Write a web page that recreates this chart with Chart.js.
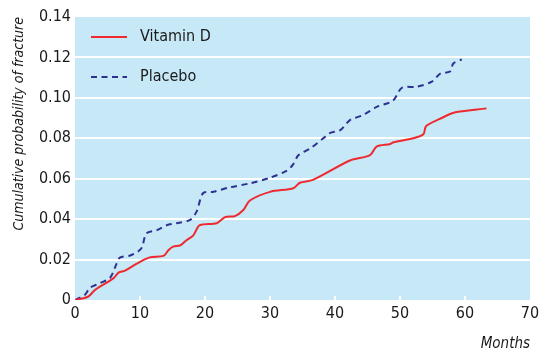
<!DOCTYPE html>
<html>
<head>
    <title>Cumulative probability of fracture</title>
    <script src="https://cdn.jsdelivr.net/npm/chart.js"></script>
    <style>
        body { margin: 0; background: #fff; }
        #wrap { width: 540px; height: 354px; }
    </style>
</head>
<body>
    <div id="wrap"><canvas id="fracture-chart"></canvas></div>

    <script>
        // values
        const vitaminMonths = [0, 2, 3.1, 5.9, 6.7, 7.7, 9.5, 11.5, 13.6, 14.4, 15.1, 16.2, 17.2, 18.2, 19.2, 21.8, 23.1, 24.6, 25.9, 26.9, 30, 33.6, 34.6, 36.6, 42.3, 45.4, 46.4, 48.5, 49, 52, 53.6, 54, 56.2, 57.7, 58.7, 63.3];
        const vitaminValues = [0, 0.0016, 0.005, 0.0107, 0.0135, 0.0145, 0.018, 0.0211, 0.0218, 0.0247, 0.0264, 0.027, 0.0297, 0.032, 0.037, 0.038, 0.041, 0.0415, 0.0445, 0.0492, 0.0535, 0.0553, 0.058, 0.0594, 0.069, 0.0717, 0.0759, 0.0772, 0.078, 0.080, 0.082, 0.086, 0.0897, 0.092, 0.093, 0.0948];

        const placeboMonths = [0, 1.5, 2.3, 3.8, 5.4, 6.4, 6.9, 8.5, 9.7, 10.3, 11, 12.6, 14.1, 15.6, 17.7, 18.7, 19.7, 21.3, 23.8, 26.9, 30, 32.6, 33.5, 34.4, 36.2, 38.2, 39.2, 40.8, 42.3, 44.3, 46.4, 48.9, 50.3, 52.6, 54.9, 56.2, 57.7, 58.2, 59.5];
        const placeboValues = [0, 0.0025, 0.006, 0.0083, 0.011, 0.018, 0.021, 0.022, 0.024, 0.026, 0.033, 0.0346, 0.037, 0.038, 0.0396, 0.0437, 0.0528, 0.0536, 0.0557, 0.0577, 0.0605, 0.064, 0.0668, 0.0717, 0.075, 0.080, 0.0826, 0.084, 0.089, 0.0915, 0.0955, 0.0986, 0.105, 0.1055, 0.108, 0.112, 0.113, 0.117, 0.119];

        const xTicks = [0, 10, 20, 30, 40, 50, 60, 70];
        const yTicks = [0, 0.02, 0.04, 0.06, 0.08, 0.10, 0.12, 0.14];
        const yTickLabels = ['0', '0.02', '0.04', '0.06', '0.08', '0.10', '0.12', '0.14'];

        const FONT = '"Liberation Sans Narrow", "DejaVu Sans Condensed", "Liberation Sans", sans-serif';
        const toPoints = (xs, ys) => xs.map((m, i) => ({ x: m, y: ys[i] }));

        // light blue panel, white grid lines and the little white month ticks
        const panel = {
            id: 'panel',
            beforeDatasetsDraw(chart) {
                const { ctx, chartArea: a, scales } = chart;
                ctx.save();
                ctx.fillStyle = '#c6e8f7';
                ctx.fillRect(a.left, a.top, a.right - a.left, a.bottom - a.top);
                ctx.strokeStyle = '#ffffff';
                ctx.lineWidth = 2;
                yTicks.slice(1, -1).forEach(v => {
                    const y = Math.round(scales.y.getPixelForValue(v));
                    ctx.beginPath();
                    ctx.moveTo(a.left, y);
                    ctx.lineTo(a.right, y);
                    ctx.stroke();
                });
                xTicks.slice(1, -1).forEach(v => {
                    const x = Math.round(scales.x.getPixelForValue(v));
                    ctx.beginPath();
                    ctx.moveTo(x, a.bottom);
                    ctx.lineTo(x, a.bottom - 4);
                    ctx.stroke();
                });
                ctx.restore();
            },
            afterDraw(chart) {
                const { ctx, chartArea: a } = chart;
                ctx.save();
                ctx.font = '16px ' + FONT;
                ctx.textBaseline = 'middle';
                chart.data.datasets.forEach((ds, i) => {
                    const y = a.top + 20 + i * 40;
                    ctx.strokeStyle = ds.borderColor;
                    ctx.lineWidth = 2;
                    ctx.setLineDash(ds.borderDash || []);
                    ctx.beginPath();
                    ctx.moveTo(a.left + 16, y);
                    ctx.lineTo(a.left + 52, y);
                    ctx.stroke();
                    ctx.setLineDash([]);
                    ctx.fillStyle = '#1a1a1a';
                    ctx.fillText(ds.label, a.left + 65, y);
                });
                ctx.restore();
            }
        };

        // grid is kept on only so the tick length can be switched off
        const hiddenGrid = { display: true, drawOnChartArea: false, drawTicks: false, color: 'transparent' };

        const ctx = document.getElementById('fracture-chart').getContext('2d');
        new Chart(ctx, {
            type: 'line',
            data: {
                datasets: [{
                    label: 'Vitamin D',
                    data: toPoints(vitaminMonths, vitaminValues),
                    borderColor: '#ee2a2e',
                    borderWidth: 2,
                    pointRadius: 0,
                    tension: 0.3,
                    fill: false
                }, {
                    label: 'Placebo',
                    data: toPoints(placeboMonths, placeboValues),
                    borderColor: '#2e3192',
                    borderWidth: 2,
                    borderDash: [6, 4.5],
                    pointRadius: 0,
                    tension: 0.3,
                    fill: false
                }]
            },
            plugins: [panel],
            options: {
                responsive: true,
                maintainAspectRatio: false,
                animation: false,
                layout: { padding: { top: 17, right: 4, left: 0, bottom: 0 } },
                plugins: {
                    legend: { display: false },
                    tooltip: { enabled: false }
                },
                scales: {
                    x: {
                        type: 'linear',
                        min: 0,
                        max: 70,
                        afterFit: s => { s.height = 54; s.paddingRight = 10; },
                        afterBuildTicks: s => { s.ticks = xTicks.map(v => ({ value: v })); },
                        grid: hiddenGrid,
                        border: { display: false },
                        ticks: {
                            color: '#1a1a1a',
                            font: { family: FONT, size: 16 },
                            padding: 4,
                            maxRotation: 0
                        },
                        title: {
                            display: true,
                            text: 'Months',
                            align: 'end',
                            color: '#1a1a1a',
                            font: { family: FONT, size: 15, style: 'italic' },
                            padding: { top: 10, bottom: 1 }
                        }
                    },
                    y: {
                        min: 0,
                        max: 0.14,
                        afterFit: s => { s.width = 75; },
                        afterBuildTicks: s => { s.ticks = yTicks.map(v => ({ value: v })); },
                        grid: hiddenGrid,
                        border: { display: false },
                        ticks: {
                            color: '#1a1a1a',
                            font: { family: FONT, size: 16 },
                            padding: 4,
                            callback: (v, i) => yTickLabels[i]
                        },
                        title: {
                            display: true,
                            text: 'Cumulative probability of fracture',
                            align: 'end',
                            color: '#1a1a1a',
                            font: { family: FONT, size: 14, style: 'italic' },
                            padding: { top: 11, bottom: 0 }
                        }
                    }
                }
            }
        });
    </script>
</body>
</html>
